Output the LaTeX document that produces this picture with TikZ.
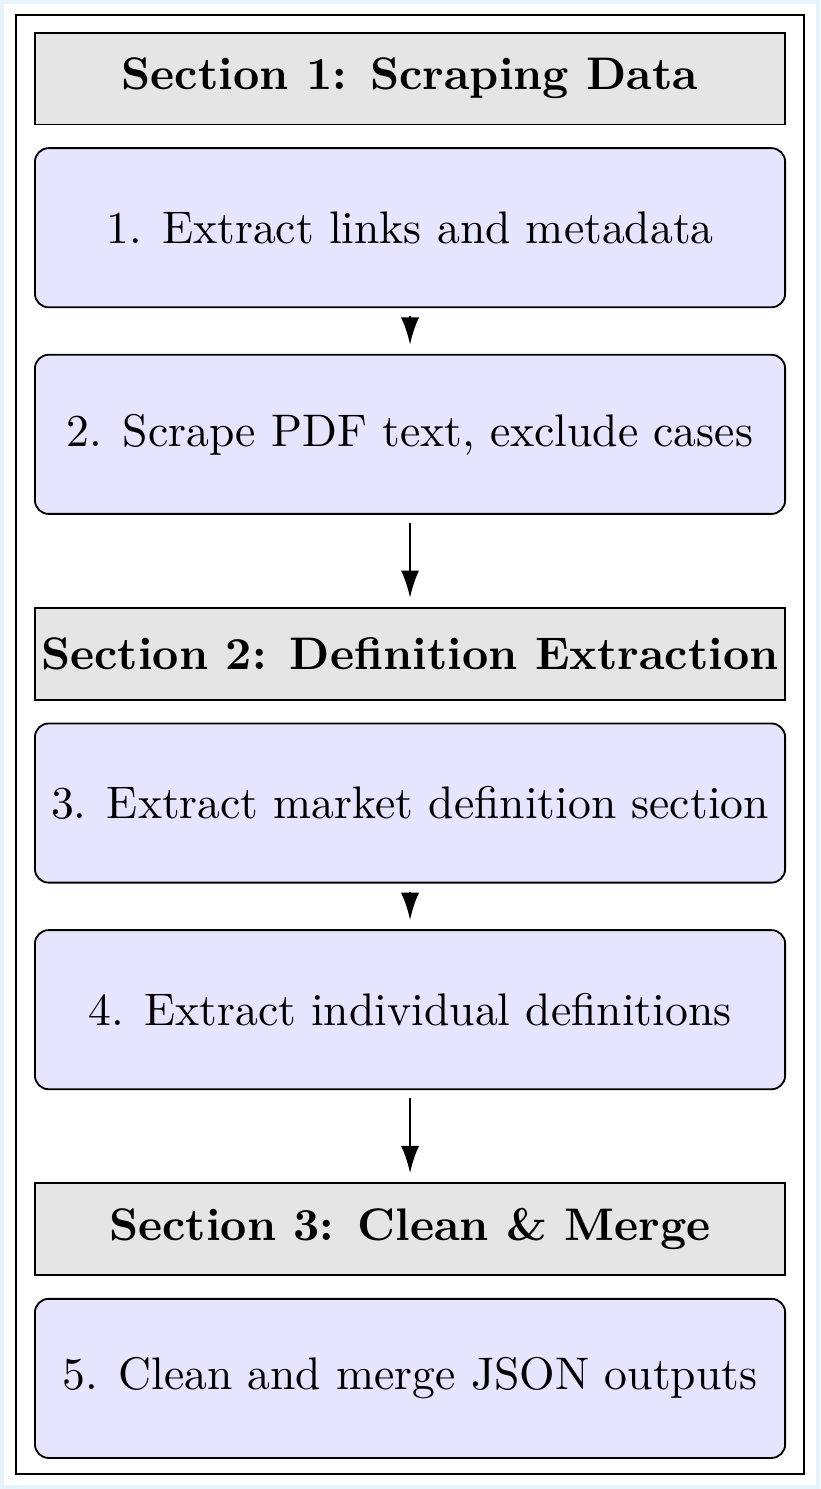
\documentclass[tikz,border=0pt]{standalone}
\usetikzlibrary{positioning,arrows.meta}
\definecolor{edgeblue}{RGB}{232,244,251}

\begin{document}
\begin{tikzpicture}[
	sectionbox/.style={draw, fill=gray!20, minimum width=164.3pt, minimum height=20.1pt, inner sep=0pt, font=\bfseries},
	stepbox/.style={draw, fill=blue!10, rounded corners=3pt, minimum width=164.3pt, minimum height=34.85pt, inner sep=0pt},
	flow/.style={-{Latex[length=6pt,width=4pt]}, semithick, shorten <=1.8pt, shorten >=2pt}
]
	\fill[edgeblue] (0,0) rectangle (179.6pt,-326.1pt);
	\fill[white] (0.9pt,-0.9pt) rectangle (178.7pt,-325.2pt);
	\draw[semithick] (3.5pt,-3.3pt) rectangle (176.1pt,-322.8pt);
	\useasboundingbox (0,0) rectangle (179.6pt,-326.1pt);
	\node[sectionbox] (sec1) at (89.8pt,-17.2pt) {Section 1: Scraping Data};
	\node[stepbox, below=4.8pt of sec1] (links) {1. Extract links and metadata};
	\node[stepbox, below=10pt of links] (scrape) {2. Scrape PDF text, exclude cases};
	\node[sectionbox, below=20.2pt of scrape] (sec2) {Section 2: Definition Extraction};
	\node[stepbox, below=4.8pt of sec2] (market) {3. Extract market definition section};
	\node[stepbox, below=10pt of market] (indiv) {4. Extract individual definitions};
	\node[sectionbox, below=20.2pt of indiv] (sec3) {Section 3: Clean \& Merge};
	\node[stepbox, below=4.8pt of sec3] (merge) {5. Clean and merge JSON outputs};
	\draw[flow] (links) -- (scrape);
	\draw[flow] (scrape) -- (sec2);
	\draw[flow] (market) -- (indiv);
	\draw[flow] (indiv) -- (sec3);
\end{tikzpicture}
\end{document}
